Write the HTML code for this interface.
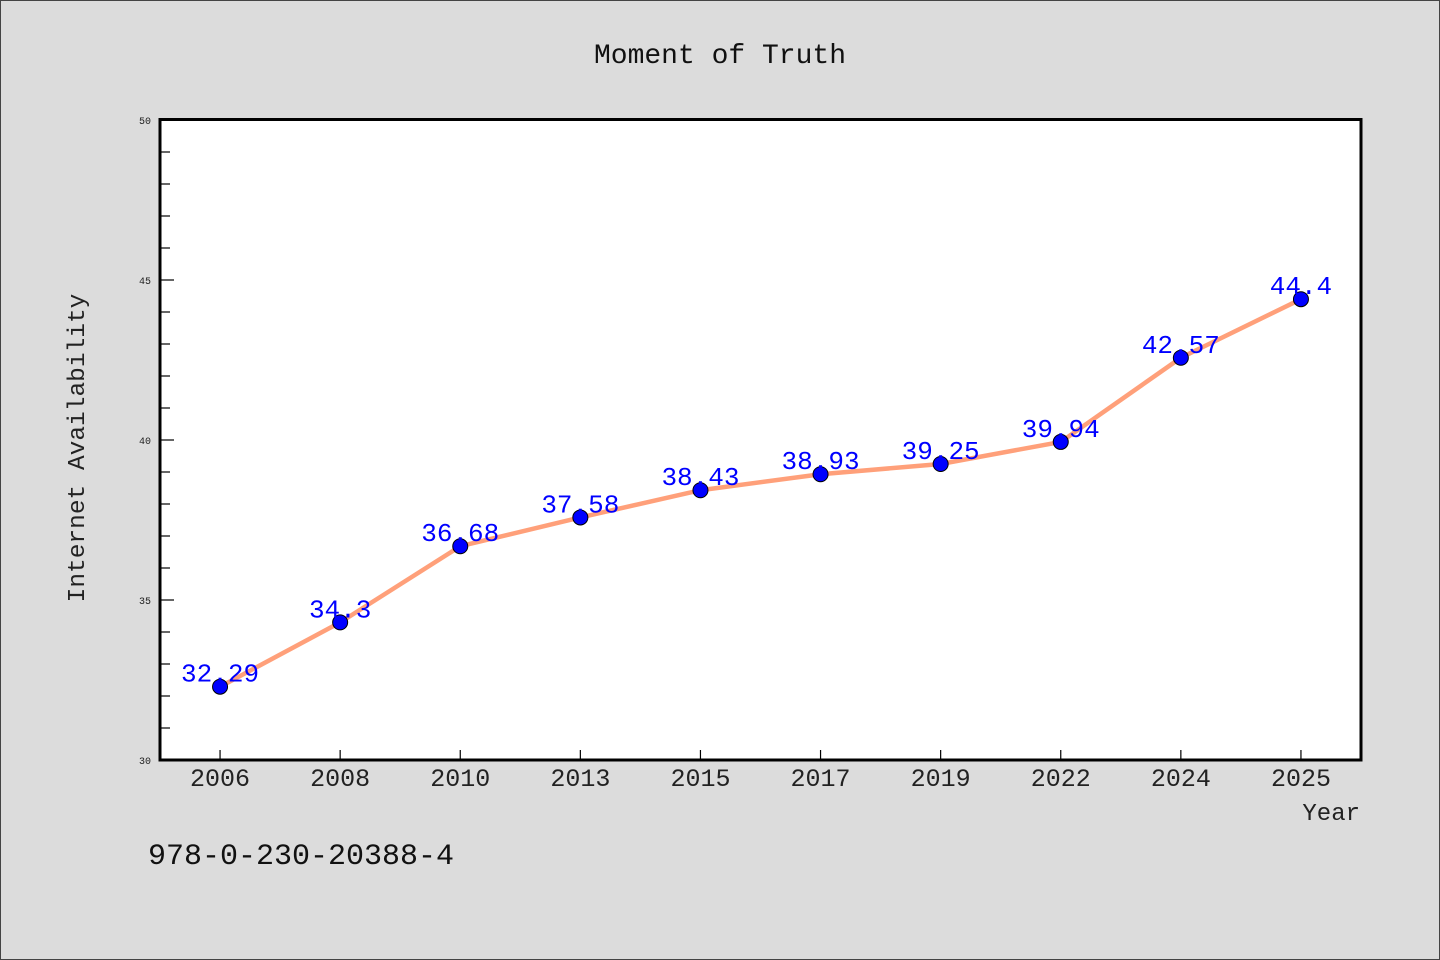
<!DOCTYPE html>
<html><head><meta charset="utf-8"><style>
html,body{margin:0;padding:0;background:#dcdcdc;}
svg{display:block;font-family:"Liberation Mono",monospace;}
</style></head><body>
<svg width="1440" height="960" xmlns="http://www.w3.org/2000/svg">
<rect x="0.5" y="0.5" width="1439" height="959" fill="#dcdcdc" stroke="#444" stroke-width="1"/>
<text x="720" y="63" text-anchor="middle" font-size="28" fill="#111">Moment of Truth</text>
<rect x="160" y="119.5" width="1201" height="640.5" fill="#fff"/>
<g id="ticks"></g>
<path id="line" fill="none" stroke="#ffa07a" stroke-width="4.5" stroke-linejoin="round"/>
<g id="marks"></g>
<rect x="160" y="119.5" width="1201" height="640.5" fill="none" stroke="#000" stroke-width="3"/>
<text transform="translate(84,448) rotate(-90)" text-anchor="middle" font-size="24.5" fill="#222">Internet Availability</text>
<text x="1360" y="820" text-anchor="end" font-size="24" fill="#222">Year</text>
<text x="148" y="864" font-size="30" fill="#111">978-0-230-20388-4</text>
</svg>
<script>
const categories=["2006","2008","2010","2013","2015","2017","2019","2022","2024","2025"];
const values=[32.29,34.3,36.68,37.58,38.43,38.93,39.25,39.94,42.57,44.4];
const valueLabels=["32.29","34.3","36.68","37.58","38.43","38.93","39.25","39.94","42.57","44.4"];
const yTickLabels=["30","35","40","45","50"];
const yMin=30,yMax=50;
const X0=160,X1=1361,Y0=760,Y1=120;
const ns="http://www.w3.org/2000/svg";
const xs=i=>X0+(X1-X0)/categories.length*(i+0.5);
const ys=v=>Y0-(v-yMin)/(yMax-yMin)*(Y0-Y1);
function mk(t,a,p){const e=document.createElementNS(ns,t);for(const k in a)e.setAttribute(k,a[k]);p.appendChild(e);return e;}
const tk=document.getElementById('ticks'),mg=document.getElementById('marks');
for(let v=yMin;v<=yMax;v++){
 const major=(v-yMin)%5===0;
 const l=mk('line',{x1:X0,x2:X0+(major?14:10),y1:ys(v),y2:ys(v),stroke:'#000','stroke-width':1.2},tk);
 
 
}
yTickLabels.forEach(s=>{
 const t=mk('text',{x:151,y:ys(+s)+4,'text-anchor':'end','font-size':10,fill:'#222'},tk);t.textContent=s;
 
 
});
categories.forEach((c,i)=>{
 const l=mk('line',{x1:xs(i),x2:xs(i),y1:Y0,y2:Y0-10,stroke:'#000','stroke-width':1.2},tk);
 
 
 const t=mk('text',{x:xs(i),y:786,'text-anchor':'middle','font-size':25,fill:'#222'},tk);t.textContent=c;
 
 
});
document.getElementById('line').setAttribute('d',values.map((v,i)=>(i?'L':'M')+xs(i)+','+ys(v)).join(' '));
values.forEach((v,i)=>{
 const c=mk('circle',{cx:xs(i),cy:ys(v),r:7.5,fill:'#0000ff',stroke:'#000','stroke-width':1},mg);
 
 
 const t=mk('text',{x:xs(i),y:ys(v)-5,'text-anchor':'middle','font-size':26,fill:'#0000ff'},mg);t.textContent=valueLabels[i];
 
 
});
</script>
</body></html>
